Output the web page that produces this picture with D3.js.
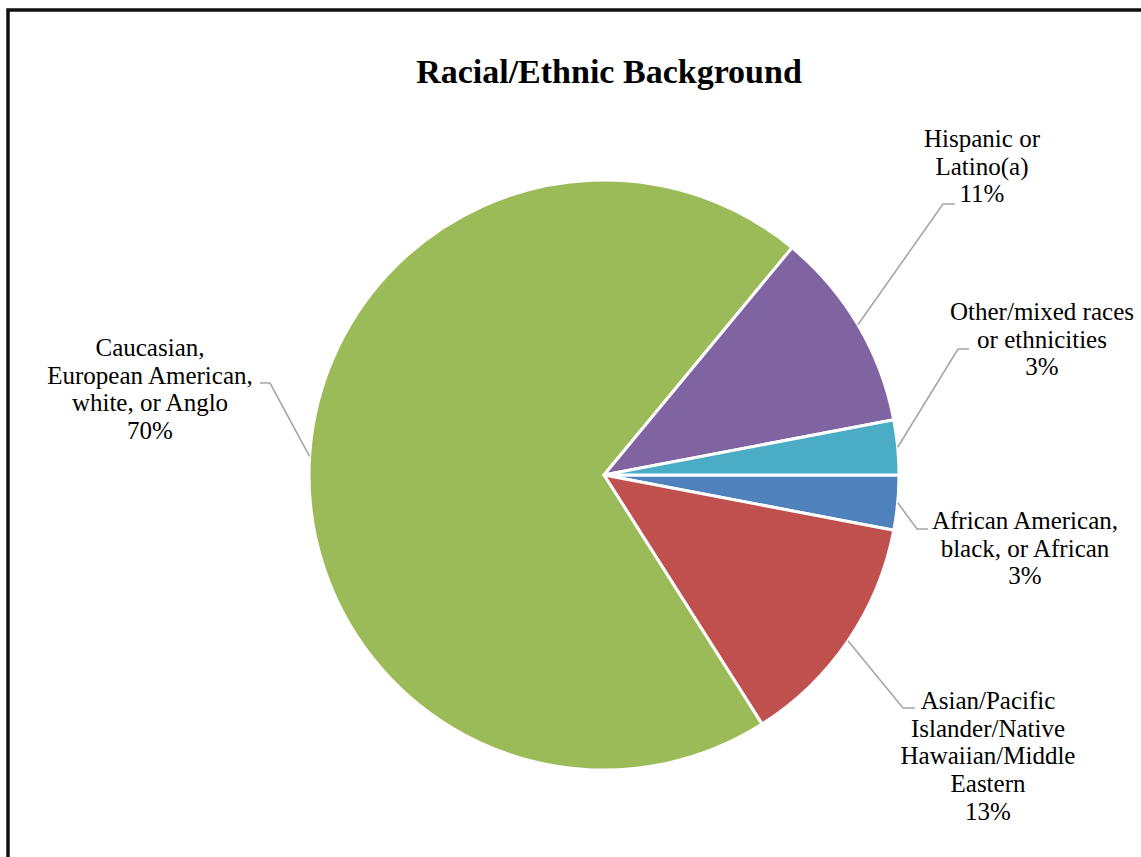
<!DOCTYPE html>
<html>
<head>
<meta charset="utf-8">
<script src="https://cdn.jsdelivr.net/npm/d3@7"></script>
<style>
  html, body { margin: 0; padding: 0; background: #fff; }
  svg { display: block; }
</style>
</head>
<body>
<svg id="chart" width="1141" height="857"></svg>
<script>
// ---- data ----
const categories = [
  "African American, black, or African",
  "Asian/Pacific Islander/Native Hawaiian/Middle Eastern",
  "Caucasian, European American, white, or Anglo",
  "Hispanic or Latino(a)",
  "Other/mixed races or ethnicities"
];
const labelLines = [
  ["African American,", "black, or African"],
  ["Asian/Pacific", "Islander/Native", "Hawaiian/Middle", "Eastern"],
  ["Caucasian,", "European American,", "white, or Anglo"],
  ["Hispanic or", "Latino(a)"],
  ["Other/mixed races", "or ethnicities"]
];
const values = [3, 13, 70, 11, 3];
const colors = ["#4F81BD", "#C0504D", "#9BBB59", "#8064A2", "#4BACC6"];
const title = "Racial/Ethnic Background";

// ---- layout (label placement, not data) ----
const W = 1141, H = 857;
const cx = 604, cy = 475, R = 295;
const lineH = 27.7;
// label block: center x, first baseline y, elbow point, horizontal end
const labelLayout = [
  { tx: 1025, ty: 529, ex: 917, ey: 529, hx: 928 },
  { tx: 988,  ty: 709, ex: 903, ey: 708, hx: 915 },
  { tx: 150,  ty: 356, ex: 270, ey: 383, hx: 260 },
  { tx: 982,  ty: 147, ex: 943, ey: 204, hx: 955 },
  { tx: 1042, ty: 320, ex: 958, ey: 349, hx: 969 }
];

const svg = d3.select("#chart");
const fontFam = "'Liberation Serif', 'DejaVu Serif', serif";

// frame
svg.append("rect")
  .attr("x", 8).attr("y", 10)
  .attr("width", W + 20).attr("height", H + 20)
  .attr("fill", "none")
  .attr("stroke", "#111")
  .attr("stroke-width", 3.5);

// title
svg.append("text")
  .attr("x", 609).attr("y", 83)
  .attr("text-anchor", "middle")
  .attr("font-family", fontFam)
  .attr("font-weight", "bold")
  .attr("font-size", 34)
  .attr("fill", "#000")
  .text(title);

const pie = d3.pie().sort(null).value(d => d)
  .startAngle(Math.PI / 2).endAngle(Math.PI / 2 + 2 * Math.PI);
const arcs = pie(values);
const arc = d3.arc().innerRadius(0).outerRadius(R);

const g = svg.append("g").attr("transform", `translate(${cx},${cy})`);
g.selectAll("path.slice")
  .data(arcs)
  .join("path")
  .attr("class", "slice")
  .attr("d", arc)
  .attr("fill", (d, i) => colors[i])
  .attr("stroke", "#fff")
  .attr("stroke-width", 3)
  .attr("stroke-linejoin", "round");

// leader lines + labels
const total = d3.sum(values);
arcs.forEach((a, i) => {
  const mid = (a.startAngle + a.endAngle) / 2;
  const sx = cx + Math.sin(mid) * R;
  const sy = cy - Math.cos(mid) * R;
  const L = labelLayout[i];
  svg.append("polyline")
    .attr("points", `${sx},${sy} ${L.ex},${L.ey} ${L.hx},${L.ey}`)
    .attr("fill", "none")
    .attr("stroke", "#a6a6a6")
    .attr("stroke-width", 1.6);

  const lines = labelLines[i].concat([Math.round(values[i] / total * 100) + "%"]);
  const t = svg.append("text")
    .attr("text-anchor", "middle")
    .attr("font-family", fontFam)
    .attr("font-size", 25)
    .attr("fill", "#000");
  lines.forEach((ln, j) => {
    t.append("tspan")
      .attr("x", L.tx)
      .attr("y", L.ty + j * lineH)
      .text(ln);
  });
});
</script>
</body>
</html>
